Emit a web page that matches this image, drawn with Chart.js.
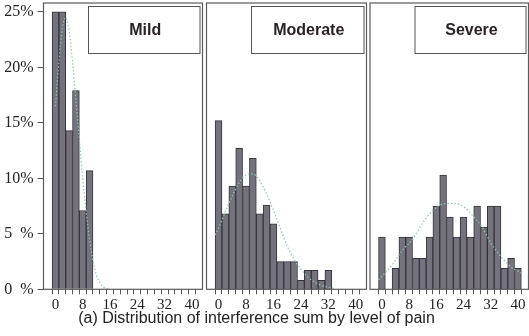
<!DOCTYPE html>
<html>
<head>
<meta charset="utf-8">
<script src="https://cdn.jsdelivr.net/npm/chart.js@4"></script>
<style>
  html, body { margin: 0; padding: 0; background: #fff; }
  #wrap { position: relative; width: 529px; height: 336px; background: #fff; overflow: hidden; }
  #wrap canvas { position: absolute; left: 0; top: 0; }
  #caption {
    position: absolute; left: 0; top: 309px; width: 513px;
    text-align: center; font: 16px "Liberation Sans", Arial, sans-serif; color: #222;
  }
</style>
</head>
<body>
<div id="wrap">
  <canvas id="mild" width="529" height="336"></canvas>
  <canvas id="moderate" width="529" height="336"></canvas>
  <canvas id="severe" width="529" height="336"></canvas>
  <div id="caption">(a) Distribution of interference sum by level of pain</div>
</div>
<script>
// ----------------------
// DATA (percent of patients per bin of width 2)
// ----------------------
const binCenters = [0, 2, 4, 6, 8, 10, 12, 14, 16, 18, 20, 22, 24, 26, 28, 30, 32, 34, 36, 38, 40];
const mildPct = [25, 25, 14.3, 17.9, 7.1, 10.7];
const moderatePct = [15.2, 6.8, 9.3, 12.7, 9.3, 11.8, 6.8, 7.6, 5.9, 2.5, 2.5, 2.5, 0.8, 1.7, 1.7, 0.8, 1.7];
const severePct = [4.7, 0, 1.9, 4.7, 4.7, 2.8, 2.8, 4.7, 7.5, 10.3, 6.5, 4.7, 6.5, 4.7, 7.5, 5.6, 7.5, 7.5, 1.9, 2.8, 1.9];

// fitted curves
const mildCurveX = [0, 1, 2, 3, 4, 5, 6, 7, 8, 9, 10, 11, 12, 13, 14, 15, 16];
const mildCurveY = [16.5, 20.5, 23.5, 24.5, 23.3, 20.5, 17, 13.5, 10, 7, 4.5, 2.6, 1.3, 0.6, 0.2, 0.1, 0];
const moderateCurveX = [-1, 0, 2, 4, 6, 8, 10, 12, 14, 16, 18, 20, 22, 24, 26, 28, 30, 32, 34];
const moderateCurveY = [4.9, 5.5, 7.0, 8.4, 9.6, 10.3, 10.4, 9.8, 8.6, 7.1, 5.5, 3.9, 2.7, 1.8, 1.1, 0.65, 0.35, 0.18, 0.05];
const severeCurveX = [-1, 2.5, 6, 9, 12.5, 15, 18, 21, 24, 26.5, 29.5, 32, 35, 38, 41];
const severeCurveY = [0.85, 2.0, 3.5, 4.5, 6.2, 7.1, 7.7, 7.75, 7.45, 6.7, 5.6, 4.2, 2.95, 2.0, 1.45];

const xTicks = [0, 2, 4, 6, 8, 10, 12, 14, 16, 18, 20, 22, 24, 26, 28, 30, 32, 34, 36, 38, 40];
const xLabels = [0, 8, 16, 24, 32, 40];
const yTicks = [0, 5, 10, 15, 20, 25];
const yLabels = ["0  %", "5  %", "10%", "15%", "20%", "25%"];

// ----------------------
// PANEL BOX + TITLE BOX
// ----------------------
const panelBox = {
  id: "panelBox",
  afterDraw(chart, args, opts) {
    const { ctx, chartArea: a } = chart;
    ctx.save();
    ctx.strokeStyle = "#5a5a5a";
    ctx.lineWidth = 1.2;
    ctx.strokeRect(a.left, a.top, a.right - a.left, a.bottom - a.top);
    // title box
    const bx = a.left + 45, by = 6.5, bw = a.right - 2.5 - bx, bh = 47;
    ctx.fillStyle = "#fff";
    ctx.fillRect(bx, by, bw, bh);
    ctx.strokeStyle = "#555";
    ctx.lineWidth = 1;
    ctx.strokeRect(bx, by, bw, bh);
    ctx.fillStyle = "#2a2226";
    ctx.font = 'bold 16px "Liberation Sans", Arial, sans-serif';
    ctx.textAlign = "center";
    ctx.textBaseline = "middle";
    ctx.fillText(opts.title, bx + bw / 2 + 1, by + bh / 2 + 1);
    ctx.restore();
  },
};

function makePanel(id, title, pct, curveX, curveY, left, right, showY) {
  const bars = pct.map((v, i) => ({ x: binCenters[i], y: v }));
  const curve = curveX.map((x, i) => ({ x: x, y: curveY[i] }));

  return new Chart(document.getElementById(id), {
    type: "bar",
    data: {
      datasets: [
        {
          type: "line",
          data: curve,
          borderColor: "#8ccaa8",
          borderWidth: 1.2,
          borderDash: [1.5, 2],
          pointRadius: 0,
          cubicInterpolationMode: "monotone",
          order: 0,
        },
        {
          data: bars,
          backgroundColor: "#74727c",
          borderColor: "#38323c",
          borderWidth: 1,
          barPercentage: 1,
          categoryPercentage: 1,
          order: 1,
        },
      ],
    },
    options: {
      responsive: false,
      animation: false,
      devicePixelRatio: 1,
      layout: { padding: { left: showY ? 0 : left, right: 529 - right, top: 3, bottom: 0 } },
      plugins: { legend: { display: false }, tooltip: { enabled: false }, panelBox: { title: title } },
      scales: {
        x: {
          type: "linear",
          min: -2.4,
          max: 42,
          afterBuildTicks: (s) => { s.ticks = xTicks.map((v) => ({ value: v })); },
          afterFit: (s) => { s.height = 336 - 289.3; s.paddingLeft = 0; s.paddingRight = 0; },
          grid: { drawOnChartArea: false, drawTicks: true, tickLength: 5, color: "#555", lineWidth: 1 },
          border: { display: false },
          ticks: {
            autoSkip: false,
            maxRotation: 0,
            padding: 2,
            color: "#222",
            font: { family: '"Liberation Serif", "Times New Roman", serif', size: 15 },
            callback: (v) => (xLabels.includes(v) ? String(v) : ""),
          },
        },
        y: {
          display: showY,
          min: 0,
          max: 25.8,
          afterBuildTicks: (s) => { s.ticks = yTicks.map((v) => ({ value: v })); },
          afterFit: (s) => { s.width = showY ? left : 0; s.paddingTop = 0; s.paddingBottom = 0; },
          grid: { drawOnChartArea: false, drawTicks: true, tickLength: 6, color: "#555", lineWidth: 1 },
          border: { display: false },
          ticks: {
            padding: 4,
            color: "#222",
            font: { family: '"Liberation Serif", "Times New Roman", serif', size: 16 },
            callback: (v) => yLabels[yTicks.indexOf(v)],
          },
        },
      },
    },
    plugins: [panelBox],
  });
}

makePanel("mild", "Mild", mildPct, mildCurveX, mildCurveY, 43.5, 202.5, true);
makePanel("moderate", "Moderate", moderatePct, moderateCurveX, moderateCurveY, 206.5, 366.5, false);
makePanel("severe", "Severe", severePct, severeCurveX, severeCurveY, 370, 528.5, false);
</script>
</body>
</html>
